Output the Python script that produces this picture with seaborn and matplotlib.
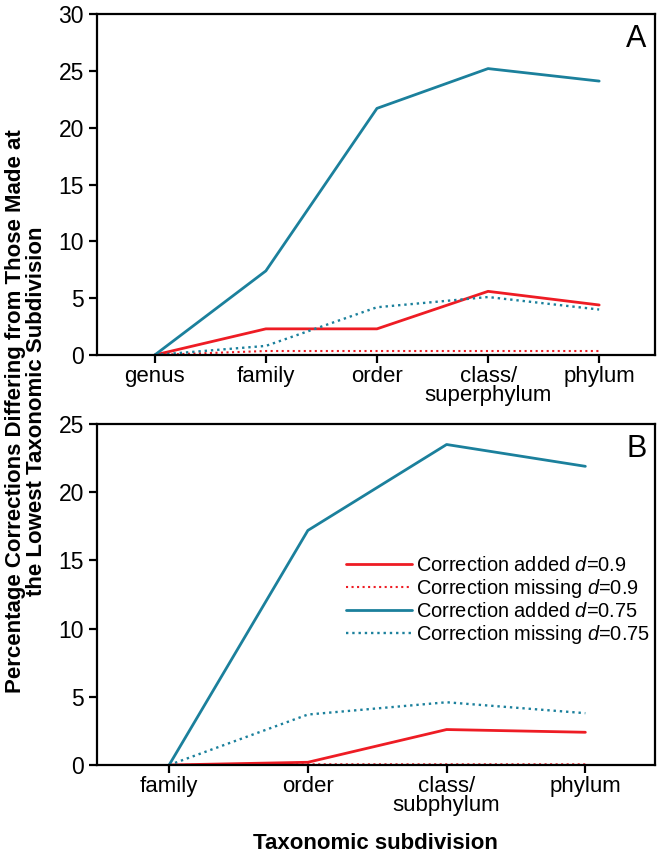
import matplotlib
matplotlib.use("Agg")
import matplotlib.pyplot as plt
import seaborn as sns
import pandas as pd

# panel A
ranks_a = ["genus", "family", "order", "class/\nsuperphylum", "phylum"]
added_09_a = [0, 2.3, 2.3, 5.6, 4.4]
missing_09_a = [0, 0.35, 0.35, 0.35, 0.35]
added_075_a = [0, 7.4, 21.7, 25.2, 24.1]
missing_075_a = [0, 0.8, 4.2, 5.1, 4.0]

# panel B
ranks_b = ["family", "order", "class/\nsubphylum", "phylum"]
added_09_b = [0, 0.2, 2.6, 2.4]
missing_09_b = [0, 0.05, 0.05, 0.05]
added_075_b = [0, 17.2, 23.5, 21.9]
missing_075_b = [0, 3.7, 4.6, 3.8]

labels = ["Correction added $d$=0.9", "Correction missing $d$=0.9",
          "Correction added $d$=0.75", "Correction missing $d$=0.75"]
red = "#ee1c24"
teal = "#1b809c"
styles = [(red, "-", 2.0), (red, ":", 1.5), (teal, "-", 2.0), (teal, ":", 1.7)]

sns.set_style("white")
plt.rcParams["font.family"] = ["Liberation Sans", "DejaVu Sans"]
plt.rcParams["mathtext.fontset"] = "custom"
plt.rcParams["mathtext.it"] = "Liberation Sans:italic"
plt.rcParams["mathtext.rm"] = "Liberation Sans"
for k in ["text.color", "axes.labelcolor", "xtick.color", "ytick.color"]:
    plt.rcParams[k] = "black"

fig = plt.figure(figsize=(6.62, 8.61), dpi=100)
ax_a = fig.add_axes([0.1465, 0.5877, 0.8425, 0.396])
ax_b = fig.add_axes([0.1465, 0.1115, 0.8425, 0.396])


def draw(ax, ranks, series, ymax, letter):
    pos = list(range(len(ranks)))
    for vals, lab, (c, ls, lw) in zip(series, labels, styles):
        df = pd.DataFrame({"pos": pos, "val": vals})
        sns.lineplot(data=df, x="pos", y="val", ax=ax, color=c, linestyle=ls,
                     linewidth=lw, label=lab, legend=False)
    ax.set_xticks(pos)
    ax.set_xticklabels(ranks, fontsize=16, linespacing=0.88)
    ax.set_xlim(-0.52, len(ranks) - 0.5)
    ax.set_ylim(0, ymax)
    ax.set_yticks(range(0, ymax + 1, 5))
    ax.tick_params(axis="y", labelsize=16.5)
    ax.tick_params(axis="x", pad=2)
    ax.tick_params(direction="out", length=6, width=1.6, left=True, bottom=True)
    for s in ax.spines.values():
        s.set_linewidth(1.6)
        s.set_color("black")
    ax.set_xlabel("")
    ax.set_ylabel("")
    ax.text(0.985, 0.97, letter, transform=ax.transAxes, ha="right", va="top",
            fontsize=22)


draw(ax_a, ranks_a, [added_09_a, missing_09_a, added_075_a, missing_075_a], 30, "A")
draw(ax_b, ranks_b, [added_09_b, missing_09_b, added_075_b, missing_075_b], 25, "B")

ax_b.legend(loc="upper left", bbox_to_anchor=(0.446, 0.614), frameon=False,
            fontsize=14.4, handlelength=3.3, handletextpad=0.2,
            labelspacing=0.1, borderpad=0, borderaxespad=0)
ax_b.set_xlabel("Taxonomic subdivision", fontsize=16, fontweight="bold",
                labelpad=12)

fig.text(0.04, 0.522,
         "Percentage Corrections Differing from Those Made at\nthe Lowest Taxonomic Subdivision",
         rotation=90, ha="center", va="center", fontsize=16, fontweight="bold",
         linespacing=1.0)

fig.savefig("out.png", dpi=100)
